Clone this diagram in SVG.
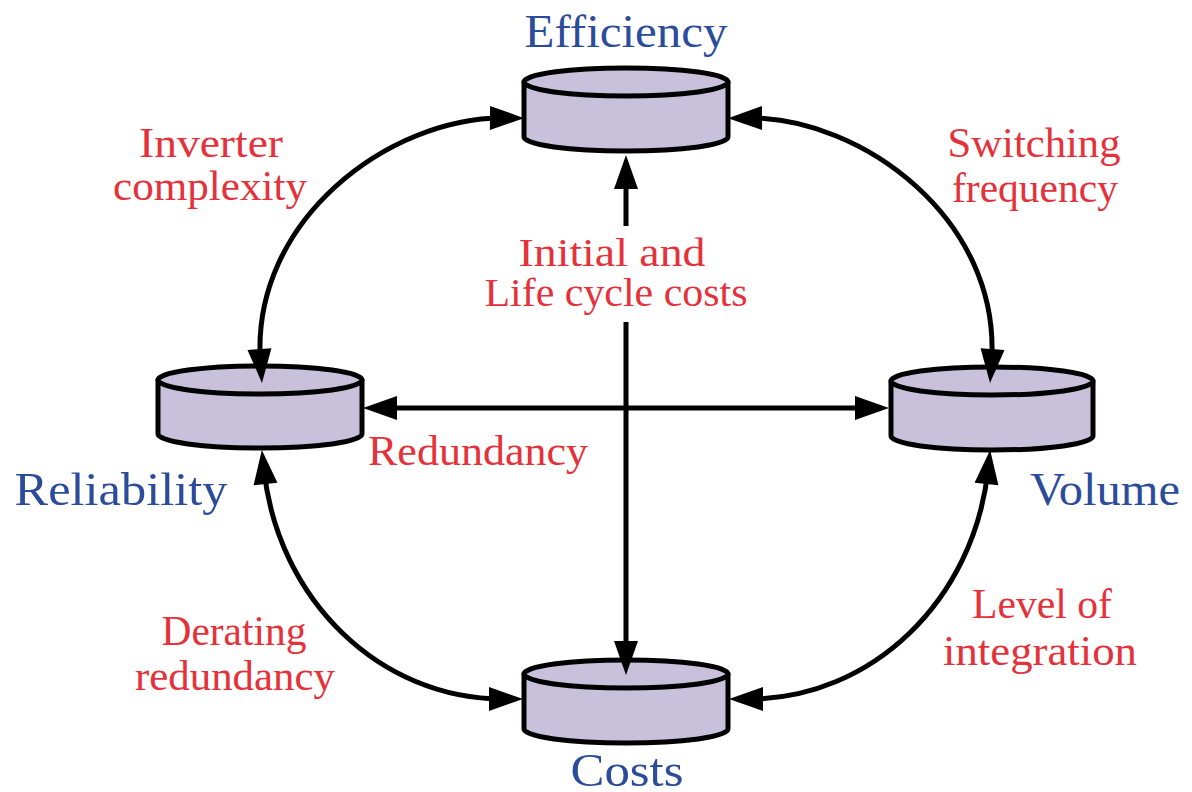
<svg xmlns="http://www.w3.org/2000/svg" width="1192" height="792" viewBox="0 0 1192 792">
  <style>
    .cyl { fill: #c9c1dc; stroke: #000; stroke-width: 5; stroke-linejoin: round; }
    .name { font-family: "Liberation Serif", "Times New Roman", serif; font-size: 47px; fill: #2b4c9b; text-anchor: middle; }
    .lbl { font-family: "Liberation Serif", "Times New Roman", serif; font-size: 42px; fill: #e5323a; text-anchor: middle; }
    .mid { font-size: 40px; }
    .link { fill: none; stroke: #000; stroke-width: 5; marker-start: url(#head); marker-end: url(#head); }
  </style>
  <defs>
    <!-- filled triangular arrowhead; tip sits 20px beyond the path end -->
    <marker id="head" markerUnits="userSpaceOnUse" markerWidth="40" markerHeight="30" refX="14" refY="12" orient="auto-start-reverse" overflow="visible">
      <path d="M0,0 L34,12 L0,24 Z" fill="#000"/>
    </marker>
  </defs>

  <rect width="1192" height="792" fill="#fff"/>

  <!-- nodes: flat cylinders with their names -->
  <g id="efficiency">
    <path class="cyl" d="M524,82 L524,137 A102,14 0 0 0 728,137 L728,82 Z"/>
    <ellipse class="cyl" cx="626" cy="82" rx="102" ry="14"/>
    <text class="name" x="626" y="47" textLength="203" lengthAdjust="spacingAndGlyphs">Efficiency</text>
  </g>
  <g id="reliability">
    <path class="cyl" d="M158,380 L158,434 A102,14 0 0 0 362,434 L362,380 Z"/>
    <ellipse class="cyl" cx="260" cy="380" rx="102" ry="14"/>
    <text class="name" x="121" y="505" textLength="213" lengthAdjust="spacingAndGlyphs">Reliability</text>
  </g>
  <g id="volume">
    <path class="cyl" d="M891,381 L891,436 A101,14 0 0 0 1093,436 L1093,381 Z"/>
    <ellipse class="cyl" cx="992" cy="381" rx="101" ry="14"/>
    <text class="name" x="1105" y="505" textLength="150" lengthAdjust="spacingAndGlyphs">Volume</text>
  </g>
  <g id="costs">
    <path class="cyl" d="M524,674 L524,729 A102,14 0 0 0 728,729 L728,674 Z"/>
    <ellipse class="cyl" cx="626" cy="674" rx="102" ry="14"/>
    <text class="name" x="627" y="786" textLength="113" lengthAdjust="spacingAndGlyphs">Costs</text>
  </g>

  <!-- connectors: double-headed trade-off links -->
  <g id="links">
    <path class="link" d="M504,118 C390,117 250,220 260.5,363"/>
    <path class="link" d="M748,118 C862,117 1002,220 991.5,363"/>
    <path class="link" d="M264,470 C278,600 380,699 503,699"/>
    <path class="link" d="M988,470 C974,600 872,699 749,699"/>
    <path class="link" d="M383,408 L869,408"/>
    <path class="link" d="M626,175 L626,655"/>
  </g>

  <!-- link labels -->
  <g id="labels">
    <rect x="478" y="226" width="276" height="96" fill="#fff"/>
    <text class="lbl mid" x="612" y="266" textLength="187" lengthAdjust="spacingAndGlyphs">Initial and</text>
    <text class="lbl mid" x="616" y="306" textLength="263" lengthAdjust="spacingAndGlyphs">Life cycle costs</text>
    <text class="lbl" x="211" y="157" textLength="144" lengthAdjust="spacingAndGlyphs">Inverter</text>
    <text class="lbl" x="210" y="200" textLength="194" lengthAdjust="spacingAndGlyphs">complexity</text>
    <text class="lbl" x="1034" y="157" textLength="173" lengthAdjust="spacingAndGlyphs">Switching</text>
    <text class="lbl" x="1035" y="202" textLength="166" lengthAdjust="spacingAndGlyphs">frequency</text>
    <text class="lbl" x="478" y="465" textLength="220" lengthAdjust="spacingAndGlyphs">Redundancy</text>
    <text class="lbl" x="234" y="645" textLength="145" lengthAdjust="spacingAndGlyphs">Derating</text>
    <text class="lbl" x="235" y="690" textLength="200" lengthAdjust="spacingAndGlyphs">redundancy</text>
    <text class="lbl" x="1042" y="618" textLength="140" lengthAdjust="spacingAndGlyphs">Level of</text>
    <text class="lbl" x="1040" y="665" textLength="194" lengthAdjust="spacingAndGlyphs">integration</text>
  </g>
</svg>
